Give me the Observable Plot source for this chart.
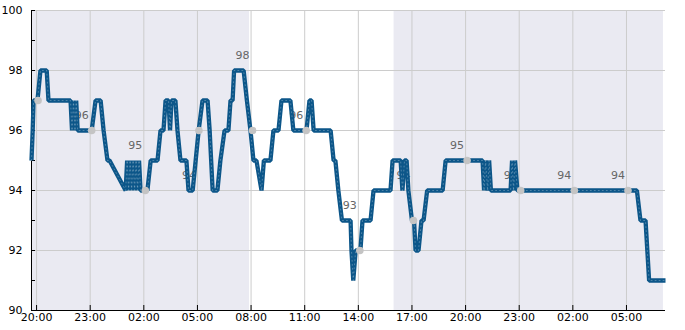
<!DOCTYPE html>
<html><head><meta charset="utf-8">
<script src="https://cdn.jsdelivr.net/npm/d3@7"></script>
<script src="https://cdn.jsdelivr.net/npm/@observablehq/plot@0.6"></script>
<style>body{margin:0;background:#fff;}</style>
</head><body><div id="chart"></div>
<script>
// series: "DD HH:MM" (day 01 = first evening), value
const times = ["01 19:43","01 19:47","01 19:50","01 20:03","01 20:13","01 20:34","01 20:40","01 21:54","01 21:59","01 22:04","01 22:09","01 22:13","01 22:18","01 23:05","01 23:18","01 23:35","01 23:45","01 23:58","02 00:05","02 00:59","02 01:04","02 01:09","02 01:14","02 01:19","02 01:24","02 01:29","02 01:34","02 01:39","02 01:44","02 01:49","02 02:12","02 02:23","02 02:46","02 02:56","02 03:06","02 03:13","02 03:23","02 03:28","02 03:33","02 03:46","02 03:53","02 04:03","02 04:23","02 04:30","02 04:44","02 04:54","02 05:04","02 05:17","02 05:34","02 05:41","02 05:46","02 05:51","02 06:07","02 06:17","02 06:31","02 06:44","02 06:51","02 06:58","02 07:03","02 07:35","02 07:46","02 07:58","02 08:08","02 08:18","02 08:35","02 08:43","02 09:05","02 09:15","02 09:32","02 09:42","02 10:12","02 10:22","02 11:06","02 11:16","02 11:23","02 11:30","02 12:27","02 12:37","02 12:43","02 12:53","02 13:05","02 13:34","02 13:37","02 13:43","02 13:51","02 14:07","02 14:14","02 14:41","02 14:51","02 15:48","02 15:55","02 16:22","02 16:28","02 16:35","02 16:42","02 16:48","02 17:00","02 17:07","02 17:12","02 17:22","02 17:32","02 17:39","02 17:51","02 18:43","02 18:53","02 20:57","02 21:02","02 21:07","02 21:14","02 21:19","02 21:25","02 22:31","02 22:36","02 22:41","02 22:46","02 22:54","03 05:35","03 05:47","03 06:04","03 06:10","03 06:16","03 07:11"];
const values = [95,96,97,97,98,98,97,97,96,97,96,97,96,96,97,97,96,95,95,94,95,94,95,94,95,94,95,94,95,94,94,95,95,96,96,97,97,96,97,97,96,95,95,94,94,95,96,97,97,96,95,94,94,95,96,96,97,97,98,98,97,96,95,95,94,95,95,96,96,97,97,96,96,97,97,96,96,95,95,94,93,93,92,91,92,92,93,93,94,94,95,95,94,95,95,94,93,93,92,92,93,93,94,94,95,95,94,95,94,95,94,94,95,94,95,94,94,93,93,92,91,91];

const dotTimes = ["01 20:05","01 23:05","02 02:05","02 05:05","02 08:05","02 11:05","02 14:05","02 17:05","02 20:05","02 23:05","03 02:05","03 05:05"];
const dotValues = [97,96,94,96,96,96,92,93,95,94,94,94];

const labelTimes = ["01 23:05","02 02:05","02 05:05","02 08:05","02 11:05","02 14:05","02 17:05","02 20:05","02 23:05","03 02:05","03 05:05"];
const labelValues = [96,95,94,98,96,93,94,95,94,94,94];

const nightStarts = ["01 19:43","02 16:00"];
const nightEnds = ["02 07:55","03 07:04"];

const xTicks = ["01 20:00","01 23:00","02 02:00","02 05:00","02 08:00","02 11:00","02 14:00","02 17:00","02 20:00","02 23:00","03 02:00","03 05:00"];
const yMajor = [90,92,94,96,98,100];
const yMinor = [91,93,95,97,99];
const xDomain = ["01 19:43","03 07:11"];

const parse = d3.utcParse("%d %H:%M");
const series = times.map((t,i) => ({t: parse(t), v: values[i]}));
const dots = dotTimes.map((t,i) => ({t: parse(t), v: dotValues[i]}));
const labels = labelTimes.map((t,i) => ({t: parse(t), v: labelValues[i]}));
const nights = nightStarts.map((s,i) => ({a: parse(s), b: parse(nightEnds[i])}));
const ticks = xTicks.map(parse);
const dom = xDomain.map(parse);

const chart = Plot.plot({
  width: 685, height: 330,
  marginLeft: 31, marginRight: 20, marginTop: 10, marginBottom: 20,
  style: {fontFamily: "DejaVu Sans", fontSize: "11px", color: "#000", background: "#fff"},
  x: {type: "utc", domain: dom},
  y: {domain: [90, 100]},
  marks: [
    Plot.rect(nights, {x1: "a", x2: "b", fill: "#eaeaf2"}),
    Plot.gridX(ticks, {stroke: "#cccccc", strokeOpacity: 1}),
    Plot.gridY(yMajor, {stroke: "#cccccc", strokeOpacity: 1}),
    Plot.axisX(ticks, {tickSize: -5, tickPadding: 8, tickFormat: d3.utcFormat("%H:%M"), label: null, stroke: "#000"}),
    Plot.axisY(yMajor, {tickSize: -4, tickPadding: 13, label: null, stroke: "#000"}),
    Plot.axisY(yMinor, {tickSize: -4, tickFormat: () => "", label: null, stroke: "#000"}),
    Plot.ruleX([dom[0]], {stroke: "#000"}),
    Plot.ruleY([90], {stroke: "#000"}),
    Plot.text(labels, {x: "t", y: "v", text: d => String(d.v), dx: -10, dy: -15, fill: "#666", fontSize: 11}),
    Plot.line(series, {x: "t", y: "v", stroke: "#0c5689", strokeWidth: 4.3, strokeLinejoin: "miter", strokeLinecap: "butt"}),
    Plot.line(series, {x: "t", y: "v", stroke: "#ffffff", strokeWidth: 0.6, strokeDasharray: "1,3", strokeOpacity: 0.45}),
    Plot.dot(dots, {x: "t", y: "v", r: 3.8, fill: "#c4c4c4", stroke: "none"})
  ]
});
document.getElementById("chart").appendChild(chart);
</script>
</body></html>
